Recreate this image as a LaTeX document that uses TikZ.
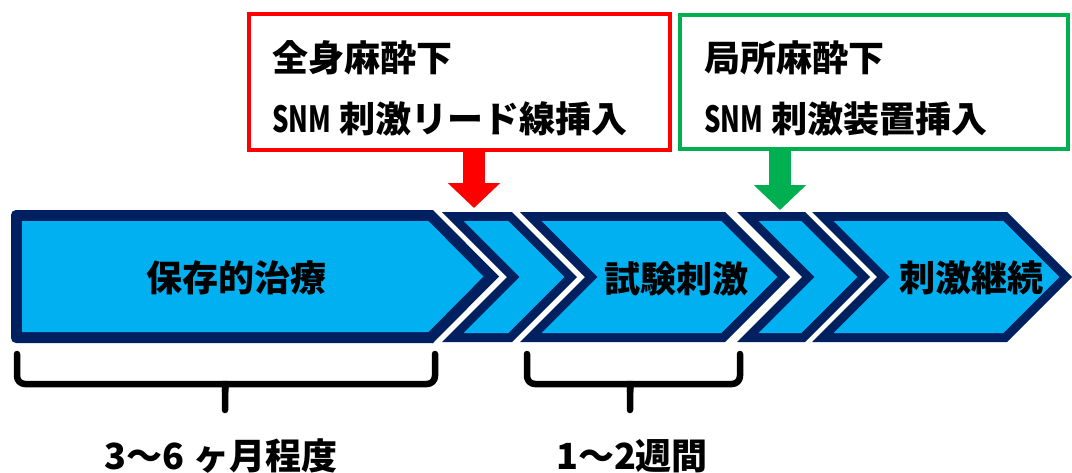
\documentclass[tikz,border=0pt]{standalone}
\usepackage{fontspec}
\setmainfont{Noto Sans CJK JP}
\usetikzlibrary{arrows.meta}
\definecolor{navy}{HTML}{002060}
\definecolor{lblue}{HTML}{00B0F0}
\definecolor{pred}{HTML}{FF0000}
\definecolor{pgreen}{HTML}{00B050}
\newcommand\nar[1]{\scalebox{0.72}[1]{#1}}
\newcommand\chev[2]{%
  \fill[navy] (#1,212) -- (#2,212) -- ({#2+65},277) -- (#2,342) -- (#1,342) -- ({#1+65},277) -- cycle;
  \fill[lblue] ({#1+21.7},221) -- ({#2-3.7},221) -- ({#2+52.3},277) -- ({#2-3.7},333) -- ({#1+21.7},333) -- ({#1+77.7},277) -- cycle;}
\tikzset{
  lbl/.style={font=\fontsize{36}{42}\selectfont\bfseries, inner sep=0pt, text=black},
  infobox/.style={line width=4pt, fill=white, inner sep=0pt},
  blockarrow/.style={line width=22pt, -{Triangle[width=51pt,length=25pt]}},
  bracestyle/.style={line width=6.5pt, black, line cap=round, line join=round}
}
\begin{document}
\begin{tikzpicture}[x=1pt,y=-1pt]
\useasboundingbox (0,0) rectangle (1072,472);
% chevron A
\fill[navy, rounded corners=5pt] (433,210) -- (11,210) -- (11,343) -- (433,343);
\fill[navy] (432,210) -- (433,210) -- (499,276.5) -- (433,343) -- (432,343) -- cycle;
\fill[lblue] (22,221) -- (428.4,221) -- (483.4,276.5) -- (428.4,332) -- (22,332) -- cycle;
% chevrons B..E
\chev{442}{512}
\chev{520}{725}
\chev{737}{805}
\chev{812}{1007}
% chevron labels
\node[lbl, anchor=base] (t1) at (236,291) {保存的治療};
\node[lbl, anchor=base] (t2) at (676,292) {試験刺激};
\node[lbl, anchor=base] (t3) at (971,291) {刺激継続};
% boxes
\node[infobox, draw=pred, minimum width=421pt, minimum height=136pt] (rbox) at (459.5,82) {};
\node[infobox, draw=pgreen, minimum width=388pt, minimum height=134pt] (gbox) at (874,82) {};
\node[lbl, anchor=base west] (r1) at (272,71) {全身麻酔下};
\node[lbl, anchor=base west] (r2) at (272,132) {\nar{SNM} 刺激リード線挿入};
\node[lbl, anchor=base west] (g1) at (704,71) {局所麻酔下};
\node[lbl, anchor=base west] (g2) at (704,132) {\nar{SNM} 刺激装置挿入};
% arrows
\coordinate (rtip) at (474,208);
\coordinate (gtip) at (780,210);
\draw[blockarrow, pred] (rbox.south -| rtip) -- (rtip);
\draw[blockarrow, pgreen] (gbox.south -| gtip) -- (gtip);
% braces
\coordinate (b1l) at (17,354);
\coordinate (b1r) at (435,354);
\coordinate (b1m) at (225,410);
\coordinate (b2l) at (527,354);
\coordinate (b2r) at (740,354);
\coordinate (b2m) at (630,410);
\draw[bracestyle, rounded corners=8pt] (b1l) -- (b1l |- 0,384) -- (219,384) to[out=0,in=90] (b1m |- 0,392) -- (b1m);
\draw[bracestyle, rounded corners=8pt] (b1r) -- (b1r |- 0,384) -- (231,384) to[out=180,in=90] (b1m |- 0,392);
\draw[bracestyle, rounded corners=8pt] (b2l) -- (b2l |- 0,384) -- (624,384) to[out=0,in=90] (b2m |- 0,392) -- (b2m);
\draw[bracestyle, rounded corners=8pt] (b2r) -- (b2r |- 0,384) -- (636,384) to[out=180,in=90] (b2m |- 0,392);
\node[lbl, anchor=base] (d1) at (221,469) {3〜6 ヶ月程度};
\node[lbl, anchor=base] (d2) at (632,469) {1〜2週間};
\end{tikzpicture}
\end{document}
